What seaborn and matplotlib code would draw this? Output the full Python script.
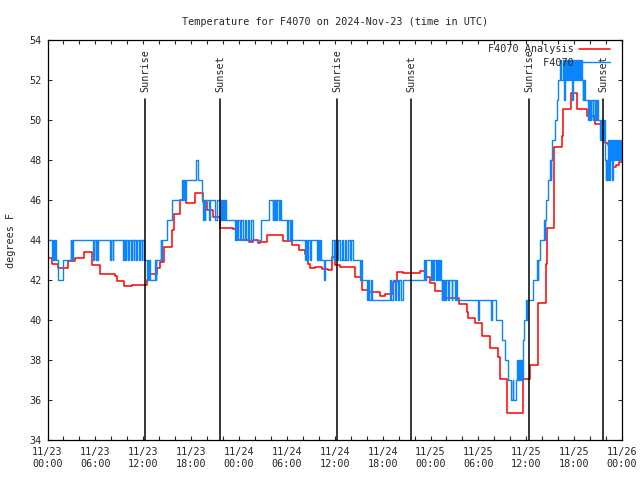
import matplotlib
matplotlib.use("Agg")
import matplotlib.pyplot as plt
import matplotlib.dates as mdates
import seaborn as sns
import pandas as pd

# hours after 2024-11-23 00:00 UTC
analysis_hours = [0, 0.53, 1.36, 2.6, 3.45, 4.6, 5.54, 6.58, 8.46, 8.75, 9.6, 10.6,
                  12.43, 12.9, 13.7, 14.1, 14.6, 15.6, 15.8, 16.6, 17.4, 18.5, 19.5,
                  20.0, 20.8, 21.6, 23.2, 23.9, 25.3, 25.8, 26.4, 26.6, 27.5, 29.5,
                  30.6, 31.5, 32.3, 32.6, 32.9, 33.5, 34.4, 35.2, 35.7, 36.0, 36.7,
                  38.5, 39.4, 40.2, 41.7, 42.3, 43.3, 43.8, 44.6, 46.7, 47.4, 47.9,
                  48.6, 49.6, 51.6, 52.6, 52.7, 53.6, 54.5, 55.5, 56.5, 56.7, 57.6,
                  59.6, 60.5, 61.5, 62.5, 62.6, 63.5, 64.5, 64.6, 65.6, 66.4, 67.6,
                  68.6, 69.6, 69.9, 70.3, 70.6, 70.9, 71.3, 71.6, 72.0]
analysis_temp = [43.1, 42.8, 42.6, 42.93, 43.1, 43.38, 42.75, 42.28, 42.2, 41.95, 41.7, 41.73,
                 42.0, 42.3, 42.6, 42.9, 43.67, 44.5, 45.3, 46.0, 45.85, 46.33, 45.9,
                 45.5, 45.17, 44.6, 44.55, 44.0, 43.9, 44.0, 43.83, 43.9, 44.25, 43.95,
                 43.75, 43.5, 43.3, 42.8, 42.6, 42.63, 42.53, 42.5, 43.17, 42.75, 42.67,
                 42.13, 41.5, 41.4, 41.2, 41.3, 41.9, 42.4, 42.35, 42.47, 42.17, 41.87,
                 41.47, 41.1, 40.8, 40.4, 40.08, 39.87, 39.2, 38.58, 38.17, 37.03, 35.37,
                 37.03, 37.75, 40.83, 42.8, 44.58, 48.67, 49.2, 50.53, 51.33, 50.53, 50.2,
                 49.8, 49.0, 48.87, 48.75, 48.25, 47.67, 47.75, 47.9, 47.9]

obs_hours = [0, 0.53, 0.65, 0.81, 0.9, 1.05, 1.28, 1.9, 2.9, 2.97, 3.03, 3.1, 3.15,
             5.74, 5.85, 6.04, 6.12, 6.24, 6.3, 7.83, 7.92, 8.17, 8.25,
             9.5, 9.58, 9.66, 9.74, 9.82, 9.9,
             10.13, 10.2, 10.46, 10.53, 10.8, 10.87, 11.13, 11.2, 11.47, 11.54, 11.8, 11.87, 12.13,
             12.47, 12.55, 12.65, 12.75, 12.85, 13.47, 13.55, 13.65, 14.2, 14.28, 14.35,
             14.98, 15.6, 16.86, 16.95, 17.1, 17.2, 17.35, 18.6, 18.8,
             19.36, 19.45, 19.6, 19.7, 19.74, 20.24, 20.32, 20.99, 21.24,
             21.62, 21.7, 21.8, 21.9, 22.0, 22.1, 22.2, 22.3, 22.4,
             23.5, 23.6, 23.8, 23.9,
             24.13, 24.3, 24.5, 24.7, 24.9, 25.1, 25.3, 25.5, 25.75,
             26.72, 27.76, 28.22, 28.3, 28.4, 28.5, 28.6, 28.73, 29.01, 29.13, 29.26,
             30.02, 30.1, 30.4, 30.5, 30.64,
             32.27, 32.4, 32.55, 32.7, 32.85, 33.0,
             33.78, 33.85, 34.0, 34.1, 34.28, 34.65, 34.72,
             35.66, 35.85, 36.05, 36.25, 36.45, 36.65, 36.85, 37.05, 37.25, 37.45, 37.65, 37.85, 38.05, 38.29,
             39.17, 39.25, 39.4, 40.05, 40.2, 40.35, 40.5, 40.65,
             42.93, 43.1, 43.3, 43.5, 43.7, 43.9, 44.1, 44.3, 44.56,
             47.19, 47.3, 47.45, 48.06, 48.2, 48.35, 48.5, 48.65, 48.8, 48.87, 48.95, 49.1, 49.17, 49.32,
             49.44, 49.5, 49.6, 49.7, 49.82, 49.9, 50.23, 50.3, 50.66, 50.73, 51.07, 51.14, 51.36,
             53.95, 54.05, 55.58, 55.66, 56.21, 56.96, 57.33, 57.71, 58.09, 58.3, 58.4,
             58.71, 58.85, 58.95, 59.05, 59.15, 59.21, 59.3, 59.4, 59.5, 59.59, 59.75,
             59.97, 60.05, 60.15, 60.85, 61.35, 61.42, 61.47, 61.72, 62.22, 62.3, 62.38,
             62.47, 62.72, 62.97, 63.05, 63.12, 63.22, 63.6, 63.85, 63.97,
             64.23, 64.4, 64.55, 64.73, 64.8, 64.95, 65.1, 65.23, 65.35, 65.5, 65.6, 65.73, 65.8,
             65.95, 66.05, 66.2, 66.3, 66.45, 66.55, 66.7, 66.8,
             66.99, 67.07, 67.15, 67.22, 67.3, 67.36,
             67.78, 67.85, 67.99, 68.06, 68.33, 68.4, 68.62, 68.69, 68.83, 68.9, 68.99,
             69.24, 69.35, 69.45, 69.55, 69.65, 69.75, 69.87, 69.95, 70.05, 70.15,
             70.25, 70.35, 70.45, 70.55, 70.65, 70.75,
             70.87, 71.0, 71.08, 71.25, 71.33, 71.5, 71.58, 71.75, 71.85, 72.0]
obs_temp = [44, 43, 44, 43, 44, 43, 42, 43, 44, 43, 44, 43, 44,
            43, 44, 43, 44, 43, 44, 43, 44, 43, 44,
            43, 44, 43, 44, 43, 44,
            43, 44, 43, 44, 43, 44, 43, 44, 43, 44, 43, 44, 43,
            42, 43, 42, 43, 42, 43, 42, 43, 44, 43, 44,
            45, 46, 47, 46, 47, 46, 47, 48, 47,
            46, 45, 46, 45, 46, 45, 46, 45, 46,
            45, 46, 45, 46, 45, 46, 45, 46, 45,
            44, 45, 44, 45,
            44, 45, 44, 45, 44, 45, 44, 45, 44,
            45, 46, 45, 46, 45, 46, 45, 46, 45, 46, 45,
            44, 45, 44, 45, 44,
            43, 44, 43, 44, 43, 44,
            43, 44, 43, 44, 43, 42, 43,
            44, 43, 44, 43, 44, 43, 44, 43, 44, 43, 44, 43, 44, 43,
            42, 43, 42, 41, 42, 41, 42, 41,
            42, 41, 42, 41, 42, 41, 42, 41, 42,
            43, 42, 43, 42, 43, 42, 43, 42, 43, 42, 43, 42, 43, 42,
            41, 42, 41, 42, 41, 42, 41, 42, 41, 42, 41, 42, 41,
            40, 41, 40, 41, 40, 39, 38, 37, 36, 37, 36,
            37, 38, 37, 38, 37, 38, 37, 38, 37, 39, 40,
            41, 40, 41, 42, 43, 42, 43, 44, 45, 44, 45,
            46, 47, 48, 47, 48, 49, 50, 51, 52,
            53, 52, 53, 51, 53, 52, 53, 52, 53, 52, 53, 51, 53,
            52, 53, 52, 53, 52, 53, 52, 53,
            52, 51, 52, 51, 52, 51,
            50, 51, 50, 51, 50, 51, 50, 51, 50, 51, 50,
            49, 50, 49, 50, 49, 50, 48, 47, 48, 47,
            49, 47, 49, 48, 49, 47,
            49, 48, 49, 48, 49, 48, 49, 48, 49, 49]

sun_hours = [12.27, 21.65, 36.3, 45.6, 60.37, 69.66]
sun_labels = ["Sunrise", "Sunset", "Sunrise", "Sunset", "Sunrise", "Sunset"]

start = pd.Timestamp("2024-11-23 00:00")
analysis = pd.DataFrame({"time": start + pd.to_timedelta(analysis_hours, unit="h"),
                         "temp": analysis_temp})
obs = pd.DataFrame({"time": start + pd.to_timedelta(obs_hours, unit="h"),
                    "temp": obs_temp})

sns.set_style("ticks")
plt.rcParams["font.family"] = ["DejaVu Sans Mono"]
plt.rcParams["font.size"] = 7.3

fig = plt.figure(figsize=(6.4, 4.8), dpi=100)
ax = fig.add_axes([47.5 / 640, 40 / 480, 574.5 / 640, 400 / 480])

sns.lineplot(data=analysis, x="time", y="temp", ax=ax, color="#ff0000", lw=1.1,
             drawstyle="steps-post", estimator=None, sort=False, label="F4070 Analysis")
sns.lineplot(data=obs, x="time", y="temp", ax=ax, color="#0a84ff", lw=1.0,
             drawstyle="steps-post", estimator=None, sort=False, label="         F4070")

for h, lab in zip(sun_hours, sun_labels):
    t = start + pd.Timedelta(hours=h)
    ax.axvline(t, ymin=0, ymax=(51.03 - 34) / 20, color="black", lw=1.1)
    ax.text(t, 51.4, lab, rotation=90, ha="center", va="bottom", fontsize=7.3)

ax.set_xlim(start, start + pd.Timedelta(hours=72))
ax.set_ylim(34, 54)
ax.set_yticks(range(34, 55, 2))
ax.xaxis.set_major_locator(mdates.HourLocator(byhour=[0, 6, 12, 18]))
ax.xaxis.set_minor_locator(mdates.HourLocator(interval=2))
ax.xaxis.set_major_formatter(mdates.DateFormatter("%m/%d\n%H:%M"))
ax.tick_params(which="both", direction="in", top=True, right=True, length=3, width=0.8)
ax.tick_params(axis="x", pad=5)
ax.tick_params(axis="y", pad=4)
for s in ax.spines.values():
    s.set_visible(True)
    s.set_linewidth(0.9)
    s.set_color("black")

ax.set_xlabel("")
ax.set_ylabel("degrees F", labelpad=10)
ax.set_title("Temperature for F4070 on 2024-Nov-23 (time in UTC)", pad=11, fontsize=7.3)

ax.legend(loc="upper right", bbox_to_anchor=(0.986, 1.0), frameon=False, markerfirst=False,
          handlelength=3.0, handletextpad=0.6, labelspacing=0.35, borderaxespad=0,
          fontsize=7.3)

fig.savefig("out.png", dpi=100)
